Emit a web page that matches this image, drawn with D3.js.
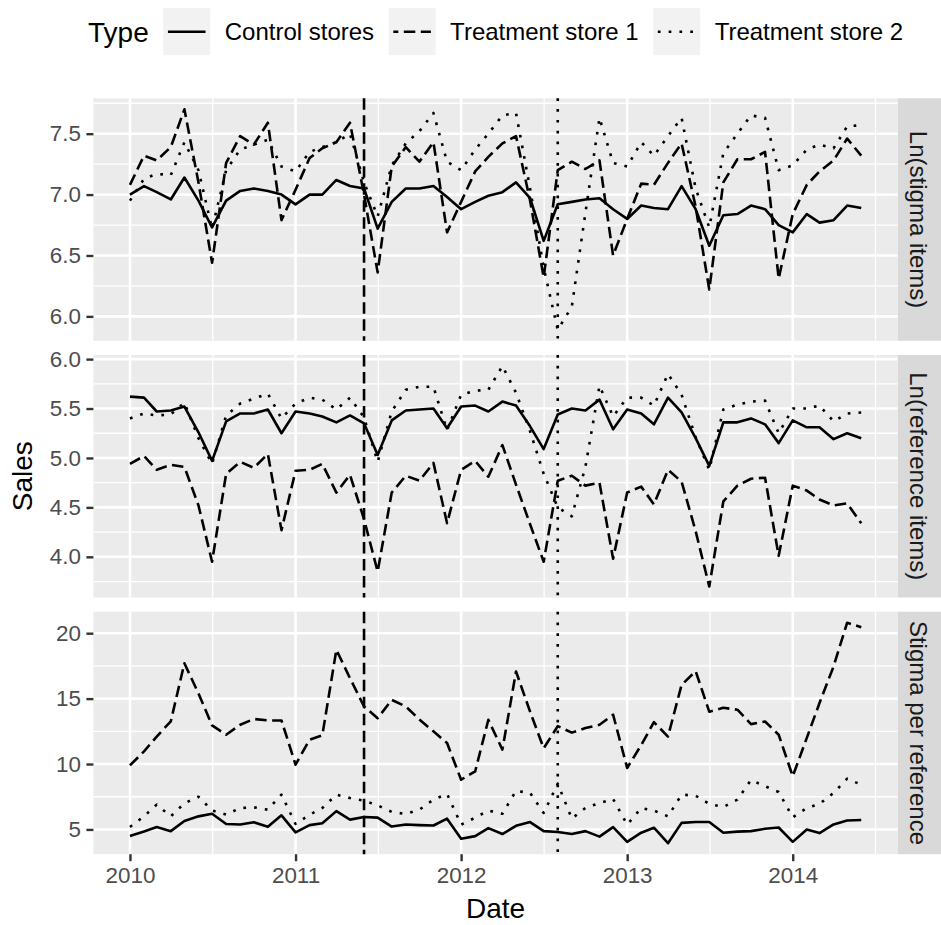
<!DOCTYPE html>
<html>
<head>
<meta charset="utf-8">
<script src="https://cdn.jsdelivr.net/npm/d3@7"></script>
<style>
body { margin: 0; background: #fff; }
text { font-family: "Liberation Sans", Arial, Helvetica, sans-serif; }
</style>
</head>
<body>
<svg id="chart" width="941" height="925"></svg>
<script>
// monthly observations, Jan 2010 .. Jun 2014
const months = [
  "2010-01","2010-02","2010-03","2010-04","2010-05","2010-06","2010-07","2010-08","2010-09","2010-10","2010-11","2010-12",
  "2011-01","2011-02","2011-03","2011-04","2011-05","2011-06","2011-07","2011-08","2011-09","2011-10","2011-11","2011-12",
  "2012-01","2012-02","2012-03","2012-04","2012-05","2012-06","2012-07","2012-08","2012-09","2012-10","2012-11","2012-12",
  "2013-01","2013-02","2013-03","2013-04","2013-05","2013-06","2013-07","2013-08","2013-09","2013-10","2013-11","2013-12",
  "2014-01","2014-02","2014-03","2014-04","2014-05","2014-06"];

const types = ["Control stores", "Treatment store 1", "Treatment store 2"];
const panels = ["Ln(stigma items)", "Ln(reference items)", "Stigma per reference"];

// Ln(stigma items)
const stigmaControl = [7.00,7.07,7.02,6.96,7.14,6.95,6.73,6.95,7.03,7.05,7.03,7.00,6.92,7.00,7.00,7.12,7.07,7.05,6.72,6.94,
  7.05,7.05,7.07,6.98,6.88,6.94,6.99,7.02,7.10,6.97,6.62,6.92,6.94,6.96,6.97,6.88,6.80,6.91,6.89,6.88,
  7.07,6.88,6.58,6.83,6.84,6.91,6.88,6.75,6.69,6.84,6.77,6.79,6.91,6.89];
const stigmaTreat1 = [7.08,7.32,7.28,7.39,7.70,7.10,6.44,7.26,7.48,7.41,7.59,6.79,7.04,7.30,7.38,7.43,7.59,7.00,6.36,7.23,
  7.39,7.27,7.43,6.69,6.94,7.19,7.31,7.42,7.48,6.95,6.32,7.20,7.27,7.21,7.28,6.50,6.80,7.09,7.08,7.26,
  7.42,6.90,6.22,7.10,7.29,7.29,7.35,6.31,6.84,7.08,7.19,7.28,7.46,7.32];
const stigmaTreat2 = [6.95,7.13,7.17,7.16,7.43,7.20,6.72,7.20,7.37,7.41,7.45,7.23,7.19,7.35,7.39,7.43,7.50,7.10,6.82,7.24,
  7.42,7.52,7.67,7.27,7.20,7.37,7.50,7.65,7.67,7.05,6.40,5.89,6.08,6.85,7.63,7.26,7.23,7.43,7.32,7.48,
  7.63,7.05,6.73,7.34,7.50,7.65,7.63,7.20,7.24,7.37,7.41,7.38,7.56,7.57];

// Ln(reference items)
const refControl = [5.62,5.61,5.47,5.48,5.52,5.26,4.97,5.37,5.45,5.45,5.49,5.25,5.47,5.45,5.42,5.36,5.43,5.35,5.03,5.38,
  5.48,5.49,5.50,5.30,5.52,5.53,5.47,5.57,5.53,5.32,5.09,5.44,5.50,5.48,5.59,5.29,5.49,5.45,5.34,5.61,
  5.46,5.20,4.92,5.36,5.36,5.40,5.34,5.15,5.38,5.31,5.31,5.19,5.25,5.20];
const refTreat1 = [4.94,5.02,4.88,4.93,4.91,4.52,3.95,4.84,4.96,4.90,5.04,4.27,4.87,4.88,4.94,4.65,4.83,4.38,3.85,4.65,
  4.82,4.77,4.95,4.34,4.88,4.97,4.81,5.13,4.73,4.33,3.95,4.77,4.82,4.72,4.75,3.98,4.65,4.71,4.53,4.88,
  4.76,4.26,3.70,4.56,4.72,4.79,4.80,4.01,4.72,4.67,4.58,4.52,4.54,4.34];
const refTreat2 = [5.40,5.45,5.43,5.44,5.56,5.20,4.94,5.43,5.55,5.60,5.65,5.40,5.55,5.61,5.59,5.49,5.61,5.41,4.96,5.47,
  5.69,5.72,5.72,5.28,5.64,5.68,5.69,5.93,5.66,5.27,4.84,4.50,4.41,4.91,5.73,5.42,5.61,5.61,5.53,5.85,
  5.64,5.21,4.88,5.49,5.54,5.57,5.58,5.25,5.50,5.50,5.53,5.37,5.45,5.46];

// Stigma per reference
const ratioControl = [4.50,4.85,5.18,4.87,5.65,6.00,6.20,5.42,5.38,5.55,5.20,6.08,4.78,5.33,5.47,6.40,5.75,5.95,5.90,5.22,
  5.38,5.33,5.30,5.82,4.29,4.49,5.10,4.65,5.28,5.56,4.87,4.80,4.65,4.87,4.45,5.18,4.05,4.75,5.13,3.95,
  5.50,5.57,5.57,4.75,4.83,4.87,5.05,5.15,4.05,5.00,4.72,5.38,5.68,5.72];
const ratioTreat1 = [9.90,10.97,12.10,13.26,17.70,15.40,12.95,12.24,13.00,13.44,13.33,13.33,9.95,11.86,12.19,18.73,16.56,14.40,13.50,14.90,
  14.40,13.40,12.50,11.60,8.80,9.44,13.38,11.10,17.07,14.00,11.20,12.90,12.40,12.75,13.00,13.77,9.70,11.45,13.20,12.10,
  16.05,17.10,14.00,14.30,14.15,13.05,13.25,12.24,9.06,12.00,14.66,17.46,20.80,20.46];
const ratioTreat2 = [5.19,6.00,6.90,6.00,7.00,7.50,6.45,6.13,6.64,6.69,6.51,7.66,5.42,6.13,6.64,7.66,7.40,7.20,6.84,6.34,
  6.18,6.51,7.28,7.71,5.37,5.90,6.44,6.20,7.95,7.79,6.26,8.50,5.83,6.64,7.02,7.33,5.37,6.64,6.44,6.00,
  7.66,7.58,6.95,6.72,7.28,8.78,8.30,7.86,5.93,6.64,6.95,7.79,8.88,8.42];

const panelSeries = [
  [stigmaControl, stigmaTreat1, stigmaTreat2],
  [refControl, refTreat1, refTreat2],
  [ratioControl, ratioTreat1, ratioTreat2]
];

const yTicks = [[6.0, 6.5, 7.0, 7.5], [4.0, 4.5, 5.0, 5.5, 6.0], [5, 10, 15, 20]];
const xTickLabels = ["2010", "2011", "2012", "2013", "2014"];
const eventDates = ["2011-06-01", "2012-08-01"];

// ---- layout / style ----
const plotL = 93.4, plotR = 897.8, stripR = 941;
const panelTop = [98.3, 355, 611.7], panelH = 242.5;
const lw = 2.6;
const dashes = [null, "11.5,5.5", "2.7,8.1"];
const eventDash = ["11.5,5.5", "2.7,8.1"];
const tickFont = 22.4, labelFont = 24, bigFont = 28;

const svg = d3.select("#chart");
const parseMonth = d3.utcParse("%Y-%m");
const parseDay = d3.utcParse("%Y-%m-%d");
const dates = months.map(parseMonth);

// x scale with ggplot-like 5% expansion
const d0 = +dates[0], d1 = +dates[dates.length - 1];
const span = d1 - d0;
const x = d3.scaleUtc()
  .domain([new Date(d0 - 0.05 * span), new Date(d1 + 0.05 * span)])
  .range([plotL, plotR]);

const xMajor = xTickLabels.map(y => parseDay(y + "-01-01"));
let xMinor = [];
for (let i = 0; i < xMajor.length - 1; i++) {
  xMinor.push(new Date((+xMajor[i] + +xMajor[i + 1]) / 2));
}
const step = +xMajor[1] - +xMajor[0];
xMinor.push(new Date(+xMajor[0] - step / 2));
xMinor.push(new Date(+xMajor[xMajor.length - 1] + step / 2));
xMinor = xMinor.filter(d => d >= x.domain()[0] && d <= x.domain()[1]);

panels.forEach((name, p) => {
  const top = panelTop[p], bottom = top + panelH;
  const series = panelSeries[p];
  const all = series.flat();
  const lo = d3.min(all), hi = d3.max(all), r = hi - lo;
  const y = d3.scaleLinear().domain([lo - 0.05 * r, hi + 0.05 * r]).range([bottom, top]);

  const g = svg.append("g");

  // panel background
  g.append("rect")
    .attr("x", plotL).attr("y", top)
    .attr("width", plotR - plotL).attr("height", panelH)
    .attr("fill", "#ebebeb");

  // minor grid
  const ticks = yTicks[p];
  const tstep = ticks[1] - ticks[0];
  let yMinor = [ticks[0] - tstep / 2].concat(ticks.map(t => t + tstep / 2));
  yMinor = yMinor.filter(v => v >= y.domain()[0] && v <= y.domain()[1]);

  g.selectAll(".hminor").data(yMinor).join("line")
    .attr("x1", plotL).attr("x2", plotR)
    .attr("y1", d => y(d)).attr("y2", d => y(d))
    .attr("stroke", "#fff").attr("stroke-width", 1.3);
  g.selectAll(".vminor").data(xMinor).join("line")
    .attr("x1", d => x(d)).attr("x2", d => x(d))
    .attr("y1", top).attr("y2", bottom)
    .attr("stroke", "#fff").attr("stroke-width", 1.3);

  // major grid
  g.selectAll(".hmajor").data(ticks).join("line")
    .attr("x1", plotL).attr("x2", plotR)
    .attr("y1", d => y(d)).attr("y2", d => y(d))
    .attr("stroke", "#fff").attr("stroke-width", 2.6);
  g.selectAll(".vmajor").data(xMajor).join("line")
    .attr("x1", d => x(d)).attr("x2", d => x(d))
    .attr("y1", top).attr("y2", bottom)
    .attr("stroke", "#fff").attr("stroke-width", 2.6);

  // series lines
  const line = d3.line()
    .x((d, i) => x(dates[i]))
    .y(d => y(d));
  series.forEach((vals, s) => {
    g.append("path")
      .datum(vals)
      .attr("d", line)
      .attr("fill", "none")
      .attr("stroke", "#000")
      .attr("stroke-width", lw)
      .attr("stroke-linejoin", "round")
      .attr("stroke-dasharray", dashes[s]);
  });

  // event lines
  eventDates.forEach((ds, k) => {
    const xv = x(parseDay(ds));
    g.append("line")
      .attr("x1", xv).attr("x2", xv)
      .attr("y1", top).attr("y2", bottom)
      .attr("stroke", "#000")
      .attr("stroke-width", lw)
      .attr("stroke-dasharray", eventDash[k]);
  });

  // y axis
  const fmt = p < 2 ? d3.format(".1f") : d3.format("d");
  const ya = svg.append("g")
    .attr("transform", `translate(${plotL},0)`)
    .call(d3.axisLeft(y).tickValues(ticks).tickFormat(fmt).tickSize(7).tickPadding(5.5));
  ya.select(".domain").remove();
  ya.selectAll(".tick line").attr("stroke", "#333").attr("stroke-width", 2.4);
  ya.selectAll(".tick text")
    .attr("fill", "#4d4d4d")
    .style("font-size", tickFont + "px")
    .style("font-family", '"Liberation Sans", Arial, sans-serif');

  // strip
  svg.append("rect")
    .attr("x", plotR).attr("y", top)
    .attr("width", stripR - plotR).attr("height", panelH)
    .attr("fill", "#d9d9d9");
  svg.append("text")
    .attr("transform", `translate(${(plotR + stripR) / 2 - 1},${top + panelH / 2}) rotate(90)`)
    .attr("text-anchor", "middle")
    .attr("dy", "0.35em")
    .attr("fill", "#1a1a1a")
    .style("font-size", labelFont + "px")
    .text(name);

  // x axis on bottom panel only
  if (p === panels.length - 1) {
    const xa = svg.append("g")
      .attr("transform", `translate(0,${bottom})`)
      .call(d3.axisBottom(x).tickValues(xMajor).tickFormat((d, i) => xTickLabels[i]).tickSize(7).tickPadding(5.5));
    xa.select(".domain").remove();
    xa.selectAll(".tick line").attr("stroke", "#333").attr("stroke-width", 2.4);
    xa.selectAll(".tick text")
      .attr("fill", "#4d4d4d")
      .style("font-size", tickFont + "px")
      .style("font-family", '"Liberation Sans", Arial, sans-serif');
  }
});

// axis titles
const lastBottom = panelTop[2] + panelH;
svg.append("text")
  .attr("x", (plotL + plotR) / 2)
  .attr("y", 918)
  .attr("text-anchor", "middle")
  .style("font-size", bigFont + "px")
  .text("Date");
svg.append("text")
  .attr("transform", `translate(32,${(panelTop[0] + lastBottom) / 2}) rotate(-90)`)
  .attr("text-anchor", "middle")
  .style("font-size", bigFont + "px")
  .text("Sales");

// legend on top
const legend = svg.append("g");
const keyS = 47, legY = 31.7, gap = 14.5;
let cx = 0;
const title = legend.append("text")
  .attr("x", cx).attr("y", legY).attr("dy", "0.35em")
  .style("font-size", bigFont + "px")
  .text("Type");
cx += title.node().getComputedTextLength() + gap;
types.forEach((t, s) => {
  legend.append("rect")
    .attr("x", cx).attr("y", legY - keyS / 2)
    .attr("width", keyS).attr("height", keyS)
    .attr("fill", "#f2f2f2");
  legend.append("line")
    .attr("x1", cx + keyS * 0.1).attr("x2", cx + keyS * 0.9)
    .attr("y1", legY).attr("y2", legY)
    .attr("stroke", "#000").attr("stroke-width", lw)
    .attr("stroke-dasharray", dashes[s])
    .attr("stroke-dashoffset", s === 1 ? 6.5 : 0);
  cx += keyS + gap;
  const lab = legend.append("text")
    .attr("x", cx).attr("y", legY).attr("dy", "0.35em")
    .style("font-size", labelFont + "px")
    .text(t);
  cx += lab.node().getComputedTextLength() + gap;
});
const legW = cx - gap;
legend.attr("transform", `translate(${(plotL + plotR) / 2 - legW / 2},0)`);
</script>
</body>
</html>
